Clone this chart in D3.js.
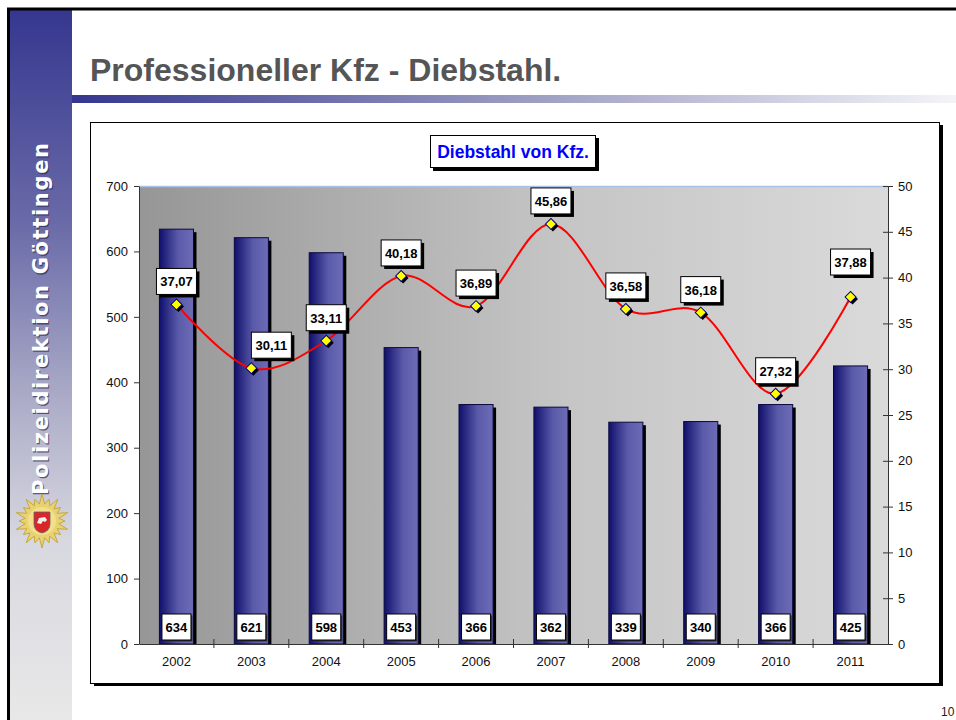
<!DOCTYPE html>
<html>
<head>
<meta charset="utf-8">
<script src="https://cdn.jsdelivr.net/npm/d3@7"></script>
<style>
  body { margin: 0; background: #fff; }
  svg { display: block; }
  text { font-family: "Liberation Sans", Arial, sans-serif; }
</style>
</head>
<body>
<div id="chart-area"></div>
<script>
// Daten
const years = ["2002", "2003", "2004", "2005", "2006", "2007", "2008", "2009", "2010", "2011"];
const counts = [634, 621, 598, 453, 366, 362, 339, 340, 366, 425];
const rates = [37.07, 30.11, 33.11, 40.18, 36.89, 45.86, 36.58, 36.18, 27.32, 37.88];
const leftTicks = [0, 100, 200, 300, 400, 500, 600, 700];
const rightTicks = [0, 5, 10, 15, 20, 25, 30, 35, 40, 45, 50];

// kleine Verschiebungen der Beschriftungen (wie im Original)
const rateLabelShift = { "2003": [20, 0], "2011": [0, -12] };

const de = d3.formatLocale({ decimal: ",", thousands: ".", grouping: [3], currency: ["", " €"] });
const fmt = de.format(".2f");

const W = 956, H = 720;
const svg = d3.select("#chart-area").append("svg")
    .attr("width", W)
    .attr("height", H);

const defs = svg.append("defs");

// Verläufe
const side = defs.append("linearGradient").attr("id", "side")
    .attr("x1", 0).attr("y1", 0).attr("x2", 0).attr("y2", 1);
side.append("stop").attr("offset", "0%").attr("stop-color", "#35378f");
side.append("stop").attr("offset", "30%").attr("stop-color", "#6a6aa8");
side.append("stop").attr("offset", "55%").attr("stop-color", "#acacc8");
side.append("stop").attr("offset", "75%").attr("stop-color", "#d8d8e0");
side.append("stop").attr("offset", "100%").attr("stop-color", "#e8e8e8");

const rule = defs.append("linearGradient").attr("id", "rule");
rule.append("stop").attr("offset", "0%").attr("stop-color", "#34368f");
rule.append("stop").attr("offset", "50%").attr("stop-color", "#9a9ac0");
rule.append("stop").attr("offset", "100%").attr("stop-color", "#f4f4f8");

const plotBg = defs.append("linearGradient").attr("id", "plotBg");
plotBg.append("stop").attr("offset", "0%").attr("stop-color", "#969696");
plotBg.append("stop").attr("offset", "55%").attr("stop-color", "#c4c4c4");
plotBg.append("stop").attr("offset", "100%").attr("stop-color", "#dadada");

const barGrad = defs.append("linearGradient").attr("id", "barGrad");
barGrad.append("stop").attr("offset", "0%").attr("stop-color", "#10106c");
barGrad.append("stop").attr("offset", "55%").attr("stop-color", "#5a5aaa");
barGrad.append("stop").attr("offset", "100%").attr("stop-color", "#6c6cb6");

// Folienrahmen und Seitenleiste
svg.append("rect").attr("x", 10).attr("y", 10).attr("width", 62).attr("height", H - 10)
    .attr("fill", "url(#side)");
svg.append("line").attr("x1", 8.5).attr("x2", 8.5).attr("y1", 8).attr("y2", H)
    .attr("stroke", "#000").attr("stroke-width", 3);
svg.append("line").attr("x1", 7).attr("x2", W).attr("y1", 9).attr("y2", 9)
    .attr("stroke", "#000").attr("stroke-width", 3);

const sideText = "Polizeidirektion Göttingen";
[[1.3, "#2a2a50", 0.7], [0, "#fff", 1]].forEach(([o, c, op]) => {
    svg.append("text")
        .attr("transform", `translate(${48 + o},${495 + o}) rotate(-90)`)
        .attr("fill", c)
        .attr("opacity", op)
        .style("font-family", "'DejaVu Sans', Verdana, sans-serif")
        .style("font-size", "21px")
        .style("font-weight", "bold")
        .attr("textLength", 352)
        .attr("lengthAdjust", "spacing")
        .text(sideText);
});

// Wappenstern
const star = svg.append("g").attr("transform", "translate(42,521)");
const starPts = d3.range(40).map(i => {
    const a = i * Math.PI / 20 - Math.PI / 2;
    const r = i % 2 ? 17 : (i % 4 ? 23 : 27);
    return [r * Math.cos(a), r * Math.sin(a)];
});
star.append("polygon").attr("points", starPts.join(" "))
    .attr("fill", "#e8d272").attr("stroke", "#c8a83c").attr("stroke-width", 1);
star.append("circle").attr("r", 14).attr("fill", "#f2e08c");
star.append("path").attr("d", "M-8,-9 H8 V3 Q8,10 0,12 Q-8,10 -8,3 Z")
    .attr("fill", "#d8262a").attr("stroke", "#666").attr("stroke-width", 0.8);
star.append("path").attr("d", "M-5,2 L-3,-3 L3,-4 L5,-1 L3,1 L1,0 L-1,3 Z")
    .attr("fill", "#eee");

// Titel
svg.append("text").attr("x", 90).attr("y", 81)
    .attr("fill", "#555")
    .style("font-size", "32px").style("font-weight", "bold")
    .text("Professioneller Kfz - Diebstahl.");
svg.append("rect").attr("x", 72).attr("y", 95).attr("width", W - 72).attr("height", 8)
    .attr("fill", "url(#rule)");

// Diagrammrahmen
svg.append("rect").attr("x", 94).attr("y", 125).attr("width", 849).attr("height", 561).attr("fill", "#000");
svg.append("rect").attr("x", 90.5).attr("y", 122.5).attr("width", 849).attr("height", 561)
    .attr("fill", "#fff").attr("stroke", "#000").attr("stroke-width", 1);

// Diagrammtitel
svg.append("rect").attr("x", 433).attr("y", 138).attr("width", 166).attr("height", 33).attr("fill", "#000");
svg.append("rect").attr("x", 430.5).attr("y", 135.5).attr("width", 165).attr("height", 32)
    .attr("fill", "#fff").attr("stroke", "#000");
svg.append("text").attr("x", 513).attr("y", 158).attr("text-anchor", "middle")
    .attr("fill", "#0000ff").style("font-size", "17.5px").style("font-weight", "bold")
    .text("Diebstahl von Kfz.");

// Skalen
const plot = { left: 139, right: 888, top: 186, bottom: 644 };
const x = d3.scaleBand().domain(years).range([plot.left, plot.right]).padding(0);
const yL = d3.scaleLinear().domain([0, 700]).range([plot.bottom, plot.top]);
const yR = d3.scaleLinear().domain([0, 50]).range([plot.bottom, plot.top]);
const barW = x.bandwidth() * 0.455;

svg.append("rect").attr("x", plot.left).attr("y", plot.top)
    .attr("width", plot.right - plot.left).attr("height", plot.bottom - plot.top)
    .attr("fill", "url(#plotBg)");
svg.append("line").attr("x1", plot.left).attr("x2", plot.right)
    .attr("y1", plot.top + 0.5).attr("y2", plot.top + 0.5)
    .attr("stroke", "#a8c4e4").attr("stroke-width", 1.5);

// Balken
const bars = svg.append("g");
bars.selectAll("rect.shadow").data(counts).enter().append("rect")
    .attr("class", "shadow")
    .attr("x", (d, i) => x(years[i]) + x.bandwidth() / 2 - barW / 2 + 3)
    .attr("y", d => yL(d) + 3)
    .attr("width", barW)
    .attr("height", d => plot.bottom - yL(d) - 3)
    .attr("fill", "#000");
bars.selectAll("rect.bar").data(counts).enter().append("rect")
    .attr("class", "bar")
    .attr("x", (d, i) => x(years[i]) + x.bandwidth() / 2 - barW / 2)
    .attr("y", d => yL(d))
    .attr("width", barW)
    .attr("height", d => plot.bottom - yL(d))
    .attr("fill", "url(#barGrad)")
    .attr("stroke", "#0a0a40").attr("stroke-width", 1);

// Achsen
const axisStyle = g => {
    g.select(".domain").attr("stroke", "#333");
    g.selectAll(".tick line").attr("stroke", "#333");
    g.selectAll(".tick text").attr("fill", "#111")
        .style("font-size", "13px").style("font-family", "'Liberation Sans', Arial, sans-serif");
};

svg.append("g").attr("transform", `translate(${plot.left},0)`)
    .call(d3.axisLeft(yL).tickValues(leftTicks).tickSize(5).tickSizeOuter(0).tickPadding(6))
    .call(axisStyle)
    .call(g => g.selectAll(".tick line").attr("x1", 0));

svg.append("g").attr("transform", `translate(${plot.right},0)`)
    .call(d3.axisRight(yR).tickValues(rightTicks).tickSize(5).tickSizeOuter(0).tickPadding(5))
    .call(axisStyle)
    .call(g => g.selectAll(".tick line").attr("x1", -5));

svg.append("g").attr("transform", `translate(0,${plot.bottom})`)
    .call(d3.axisBottom(x).tickSize(0).tickPadding(13))
    .call(axisStyle);
svg.append("g").selectAll("line").data(years.slice(1)).enter().append("line")
    .attr("x1", d => x(d)).attr("x2", d => x(d))
    .attr("y1", plot.bottom - 5).attr("y2", plot.bottom + 4)
    .attr("stroke", "#333");

// Beschriftung der Balken
const barLbl = svg.append("g").selectAll("g").data(counts).enter().append("g")
    .attr("transform", (d, i) => `translate(${x(years[i]) + x.bandwidth() / 2},${plot.bottom - 17})`);
barLbl.append("rect").attr("x", -14.5 + 1.5).attr("y", -13 + 1.5).attr("width", 29).attr("height", 26)
    .attr("fill", "#333");
barLbl.append("rect").attr("x", -14.5).attr("y", -13).attr("width", 29).attr("height", 26)
    .attr("fill", "#fff").attr("stroke", "#000");
barLbl.append("text").attr("text-anchor", "middle").attr("y", 5)
    .style("font-size", "13px").style("font-weight", "bold").attr("fill", "#000")
    .text(d => d);

// Linie
const line = d3.line()
    .x((d, i) => x(years[i]) + x.bandwidth() / 2)
    .y(d => yR(d))
    .curve(d3.curveCatmullRom.alpha(0));
svg.append("path").datum(rates)
    .attr("d", line)
    .attr("fill", "none")
    .attr("stroke", "#ff0000")
    .attr("stroke-width", 2);

// Marker
const diamond = d3.symbol().type(d3.symbolSquare).size(60);
const mk = svg.append("g").selectAll("g").data(rates).enter().append("g")
    .attr("transform", (d, i) => `translate(${x(years[i]) + x.bandwidth() / 2},${yR(d)})`);
mk.append("path").attr("d", diamond).attr("transform", "translate(2,2) rotate(45)").attr("fill", "#000");
mk.append("path").attr("d", diamond).attr("transform", "rotate(45)")
    .attr("fill", "#ffff00").attr("stroke", "#000080").attr("stroke-width", 1);

// Beschriftung der Linie
const rl = svg.append("g").selectAll("g").data(rates).enter().append("g")
    .attr("transform", (d, i) => {
        const s = rateLabelShift[years[i]] || [0, 0];
        return `translate(${x(years[i]) + x.bandwidth() / 2 + s[0]},${yR(d) - 23 + s[1]})`;
    });
rl.append("rect").attr("x", -20 + 3).attr("y", -13 + 3).attr("width", 40).attr("height", 26).attr("fill", "#000");
rl.append("rect").attr("x", -20).attr("y", -13).attr("width", 40).attr("height", 26)
    .attr("fill", "#fff").attr("stroke", "#000");
rl.append("text").attr("text-anchor", "middle").attr("y", 5)
    .style("font-size", "13px").style("font-weight", "bold").attr("fill", "#000")
    .text(d => fmt(d));

// Seitenzahl
svg.append("text").attr("x", 941).attr("y", 716).attr("fill", "#222")
    .style("font-size", "12px").text("10");
</script>
</body>
</html>
